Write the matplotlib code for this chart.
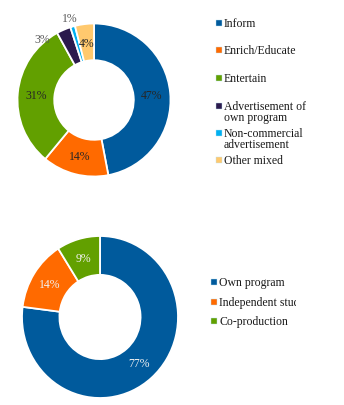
import numpy as np
import matplotlib.pyplot as plt
from matplotlib.patches import Rectangle

# data
content_labels = ["Inform", "Enrich/Educate", "Entertain",
                  "Advertisement of\nown program", "Non-commercial\nadvertisement",
                  "Other mixed"]
content_values = [47, 14, 31, 3, 1, 4]
content_colors = ["#005A9C", "#FF6A00", "#62A000", "#2B1A4D", "#00B0F0", "#FFC96E"]

source_labels = ["Own program", "Independent studio", "Co-production"]
source_values = [77, 14, 9]
source_colors = ["#005A9C", "#FF6A00", "#62A000"]

plt.rcParams['font.family'] = ['Liberation Serif', 'DejaVu Serif']

W, H = 344, 406
fig = plt.figure(figsize=(W / 100, H / 100), dpi=100)


def px_axes(cx, cy, rx, ry, lim):
    # place an axes so that a unit-radius pie lands at (cx, cy) in pixels
    return fig.add_axes([(cx - rx * lim) / W, (H - cy - ry * lim) / H,
                         2 * rx * lim / W, 2 * ry * lim / H])


def donut(ax, values, colors, lim):
    wedges, _ = ax.pie(values, colors=colors, startangle=90, counterclock=False,
                       radius=1.0, wedgeprops=dict(width=0.48, edgecolor="white", linewidth=1.3))
    ax.set_aspect('auto')
    ax.set_xlim(-lim, lim)
    ax.set_ylim(-lim, lim)
    return wedges


# ---- top donut ----
ax1 = px_axes(94, 101, 76.5, 76.5, 1.2)
w1 = donut(ax1, content_values, content_colors, 1.2)
label_r = [0.76, 0.76, 0.76, 1.04, 1.12, 0.75]
label_shift = [0, 0, 0, 17, 0, 0]
label_col = ["#262626", "#262626", "#262626", "#595959", "#595959", "#262626"]
for w, v, r, s, c in zip(w1, content_values, label_r, label_shift, label_col):
    a = np.deg2rad((w.theta1 + w.theta2) / 2 + s)
    ax1.text(r * np.cos(a), r * np.sin(a), f"{v}%", ha='center', va='center',
             fontsize=8.5, color=c)

# ---- bottom donut ----
ax2 = px_axes(100, 318, 78, 81, 1.05)
w2 = donut(ax2, source_values, source_colors, 1.05)
for w, v in zip(w2, source_values):
    a = np.deg2rad((w.theta1 + w.theta2) / 2)
    ax2.text(0.76 * np.cos(a), 0.76 * np.sin(a), f"{v}%", ha='center', va='center',
             fontsize=8.5, color="#F2F2F2")


def legend(x_mark, x_text, ys, labels, colors, clip_x=None, line_h=11.5):
    for y, lab, col in zip(ys, labels, colors):
        fig.add_artist(Rectangle((x_mark / W, (H - y - 3) / H), 6 / W, 6 / H,
                                 transform=fig.transFigure, facecolor=col,
                                 edgecolor="#BFE3F5", linewidth=0.3))
        for i, line in enumerate(lab.split("\n")):
            t = fig.text(x_text / W, (H - y - i * line_h) / H, line, ha='left',
                         va='center', fontsize=8.5, color="#1A1A1A")
            if clip_x is not None:
                t.set_clip_path(Rectangle((0, 0), clip_x / W, 1, transform=fig.transFigure))


legend(216, 224, [24, 51, 79, 107, 134, 161], content_labels, content_colors)
legend(211, 219, [283, 303, 322], source_labels, source_colors, clip_x=296)

fig.savefig("out.png", dpi=100)
